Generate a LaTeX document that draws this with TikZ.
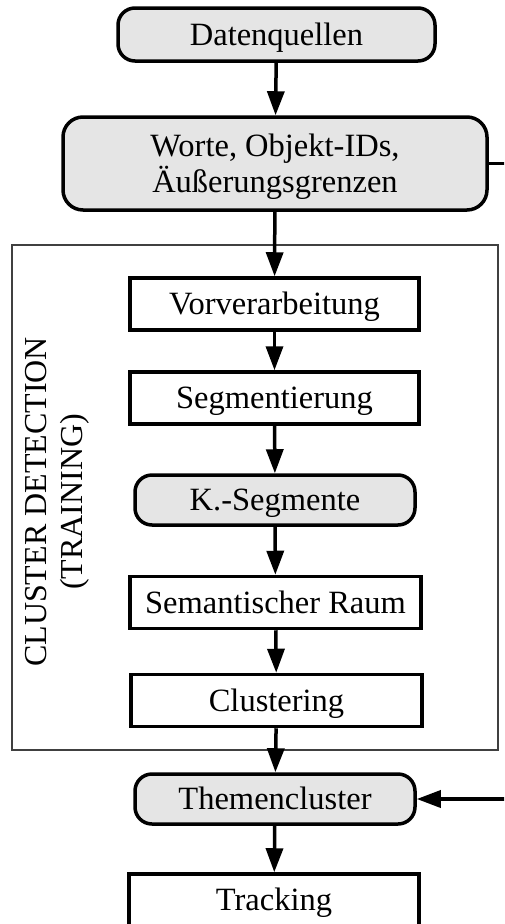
\documentclass[tikz,border=0pt]{standalone}
\usepackage{fontspec}
\setmainfont{Liberation Serif}
\usetikzlibrary{arrows.meta}

\tikzset{
  base/.style={draw=black, line width=3.5pt, inner sep=0pt, align=center,
    font=\fontsize{32.5}{36}\selectfont, text height=23.5pt, text depth=2pt},
  stepbox/.style={base, rectangle, fill=white, minimum width=289pt, minimum height=52pt},
  databox/.style={base, rectangle, rounded corners=17pt, fill=gray!20},
  stage/.style={draw=black!75, line width=1.3pt, rectangle, inner sep=0pt},
  flow/.style={line width=3.5pt, -{Triangle[length=24pt, width=17pt]}},
}

\begin{document}
\begin{tikzpicture}[x=1pt, y=-1pt]
  \clip (0,0) rectangle (504,924);
  \fill[white] (0,0) rectangle (504,924);

  % training stage frame
  \node[stage, minimum width=486pt, minimum height=505pt] (train) at (255,497.5) {};
  \node[rotate=90, align=center, font=\fontsize{32}{36}\selectfont] (trainlabel) at (57,502)
    {CLUSTER DETECTION\\(TRAINING)};

  % processing chain
  \node[databox, minimum width=317pt, minimum height=53pt] (src) at (276.5,34.5) {Datenquellen};
  \node[databox, minimum width=424pt, minimum height=93pt, rounded corners=20pt,
        text height=59.5pt] (words) at (275,163.5)
    {Worte, Objekt-IDs,\\Äußerungsgrenzen};
  \node[stepbox] (prep) at (274.5,304) {Vorverarbeitung};
  \node[stepbox] (seg) at (274.5,398) {Segmentierung};
  \node[databox, minimum width=280pt, minimum height=50pt] (kseg) at (275,500) {K.-Segmente};
  \node[stepbox, minimum width=291pt] (sem) at (275.5,602.5) {Semantischer Raum};
  \node[stepbox, minimum width=291pt] (clu) at (276.5,700.5) {Clustering};
  \node[databox, minimum width=280pt, minimum height=50pt] (topics) at (275,799) {Themencluster};
  \node[stepbox, minimum width=290pt] (track) at (274,900) {Tracking};

  \coordinate (bypassTop) at (512,163.5);
  \coordinate (bypassBot) at (512,799);

  \draw[flow] (src) -- (words);
  \draw[flow] (words) -- (prep);
  \draw[flow] (prep) -- (seg);
  \draw[flow] (seg) -- (kseg);
  \draw[flow] (kseg) -- (sem);
  \draw[flow] (sem) -- (clu);
  \draw[flow] (clu) -- (topics);
  \draw[flow] (topics) -- (track);
  \draw[flow] (words.east) -- (bypassTop) -- (bypassBot) -- (topics.east);
\end{tikzpicture}
\end{document}
